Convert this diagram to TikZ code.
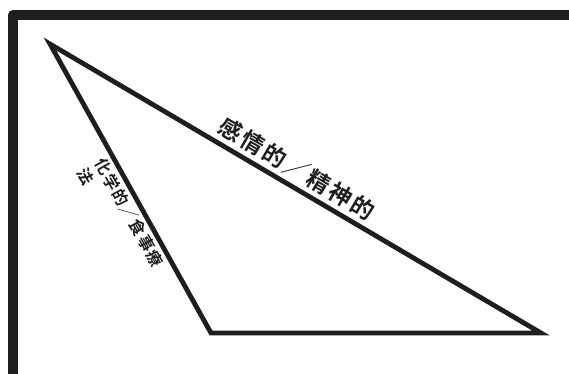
\documentclass[tikz,border=0pt]{standalone}
\usepackage{fontspec}
\newfontfamily\jpb{Noto Sans CJK JP Bold}
\definecolor{ink}{HTML}{1E1E1E}
\newcommand\lsp{\kern2.5pt}
\newcommand\lsq{\kern1.5pt}
\begin{document}
\begin{tikzpicture}[x=1pt,y=-1pt,
  edge/.style={draw=ink,line width=4.8pt,line join=miter},
  frame/.style={draw=ink,line width=10pt,line join=round},
  lbl/.style={inner sep=0pt,text=ink}]
\useasboundingbox (0,0) rectangle (569,373);
\coordinate (F1) at (13,390);
\coordinate (F2) at (13,15);
\coordinate (F3) at (590,15);
\draw[frame] (F1) -- (F2) -- (F3);
\coordinate (A) at (50,44);
\coordinate (B) at (211,333);
\coordinate (C) at (541,333);
\node[lbl,font=\jpb\fontsize{23}{23}\selectfont,rotate=-30.5] (hyp) at (297,168.5)
  {感\lsp 情\lsp 的\lsp ╱\lsp 精\lsp 神\lsp 的};
\node[lbl,font=\jpb\fontsize{16}{20}\selectfont,rotate=-60.8,anchor=north west,align=left] (left) at (106.7,155.7)
  {化\lsq 学\lsq 的\lsq ╱\lsq 食\lsq 事\lsq 療\\法};
\draw[edge] (A) -- (B) -- (C) -- cycle;
\end{tikzpicture}
\end{document}
